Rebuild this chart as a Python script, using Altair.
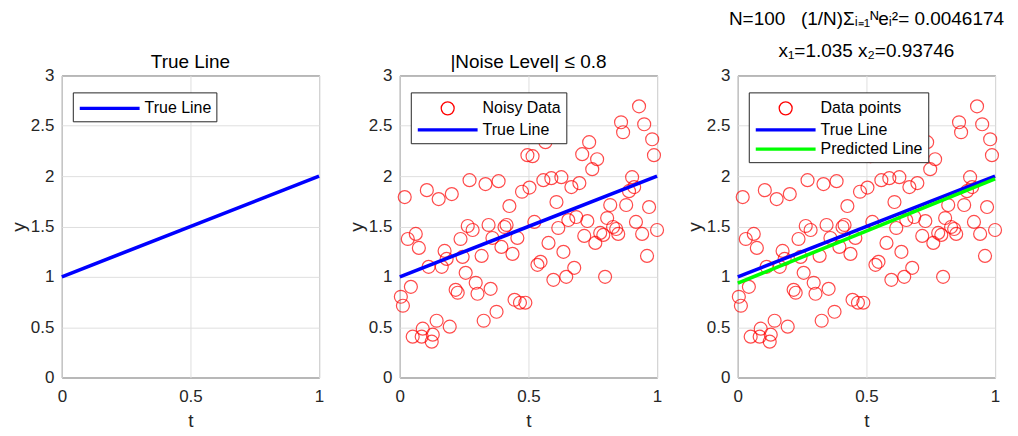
import altair as alt
import pandas as pd

# ---- data ----
T = [0.019, 0.105, 0.151, 0.202, 0.271, 0.333, 0.384, 0.426, 0.475, 0.504,
     0.930, 0.860, 0.868, 0.950, 0.981, 0.988, 0.736, 0.566, 0.496, 0.516,
     0.709, 0.767, 0.748, 0.558, 0.589, 0.628, 0.667, 0.698, 0.903, 0.891,
     0.911, 0.609, 0.818, 0.880, 0.969, 0.655, 0.686, 0.729, 0.806, 0.918,
     0.616, 0.829, 0.841, 1.000, 0.523, 0.779, 0.791, 0.849, 0.760, 0.717,
     0.942, 0.578, 0.636, 0.961, 0.547, 0.535, 0.678, 0.597, 0.647, 0.798,
     0.031, 0.062, 0.074, 0.264, 0.283, 0.345, 0.407, 0.415, 0.360, 0.236,
     0.457, 0.395, 0.438, 0.318, 0.244, 0.174, 0.182, 0.112, 0.163, 0.256,
     0.295, 0.302, 0.353, 0.217, 0.225, 0.043, 0.004, 0.012, 0.446, 0.467,
     0.488, 0.376, 0.326, 0.143, 0.194, 0.089, 0.050, 0.085, 0.128, 0.124]
Y = [1.792, 1.861, 1.772, 1.822, 1.960, 1.921, 1.950, 1.703, 1.845, 1.886,
     2.693, 2.535, 2.436, 2.515, 2.366, 2.208, 2.337, 2.337, 2.208, 2.198,
     2.218, 2.168, 2.069, 1.960, 1.980, 1.990, 1.891, 1.931, 1.990, 1.851,
     1.891, 1.743, 1.713, 1.713, 1.693, 1.564, 1.594, 1.554, 1.584, 1.545,
     1.485, 1.495, 1.475, 1.465, 1.545, 1.436, 1.416, 1.426, 1.337, 1.406,
     1.426, 1.337, 1.248, 1.208, 1.149, 1.119, 1.089, 0.970, 1.000, 1.000,
     1.376, 1.426, 1.287, 1.505, 1.465, 1.515, 1.495, 1.515, 1.386, 1.376,
     1.386, 1.297, 1.228, 1.208, 1.198, 1.257, 1.178, 1.099, 1.099, 1.040,
     0.941, 0.832, 0.881, 0.871, 0.842, 0.901, 0.802, 0.713, 0.772, 0.743,
     0.743, 0.653, 0.564, 0.564, 0.505, 0.485, 0.406, 0.406, 0.426, 0.356]
TRUE_T = [0.0, 1.0]
TRUE_Y = [1.0, 2.0]
PRED_T = [0.0, 1.0]
PRED_Y = [0.93746, 1.97246]

X_TICKS = [0, 0.5, 1]
Y_TICKS = [0, 0.5, 1, 1.5, 2, 2.5, 3]

TITLE1 = "True Line"
TITLE2 = "|Noise Level| \u2264 0.8"
TITLE3 = ["N=100\u00a0\u00a0\u00a0(1/N)\u03a3\u1d62\u208c\u2081\u1d3ae\u1d62\u00b2= 0.0046174",
          "x\u2081=1.035 x\u2082=0.93746"]

LEG1 = ["True Line"]
LEG2 = ["Noisy Data", "True Line"]
LEG3 = ["Data points", "True Line", "Predicted Line"]

RED, BLUE, GREEN = "#FF0000", "#0000FF", "#00FF00"
CIRCLE = "M-0.65,0A0.65,0.65 0 1,1 0.65,0A0.65,0.65 0 1,1 -0.65,0Z"
LINE = "M-3,-0.1H3M-3,0H3M-3,0.1H3"

FONT = "Liberation Sans"
W, H = 258, 303

pts = pd.DataFrame({"t": T, "y": Y})
true_df = pd.DataFrame({"t": TRUE_T, "y": TRUE_Y})
pred_df = pd.DataFrame({"t": PRED_T, "y": PRED_Y})

x_enc = alt.X("t:Q", scale=alt.Scale(domain=[0, 1], nice=False),
              axis=alt.Axis(values=X_TICKS, format="~g", title="t", labelFlush=False,
                            labelPadding=11, titlePadding=7))
y_enc = alt.Y("y:Q", scale=alt.Scale(domain=[0, 3], nice=False),
              axis=alt.Axis(values=Y_TICKS, format="~g", title="y", labelFlush=False,
                            labelPadding=8, titlePadding=2))


def points_layer():
    return alt.Chart(pts).mark_point(shape="circle", filled=False, size=169,
                                     strokeWidth=1.2, color=RED).encode(x=x_enc, y=y_enc)


def line_layer(df, color):
    return alt.Chart(df).mark_line(strokeWidth=3.6, color=color).encode(x=x_enc, y=y_enc)


def legend_layer(names, colors, shapes):
    leg = alt.Legend(title=None, orient="none", legendX=11, legendY=17,
                     direction="vertical", strokeColor="#262626", fillColor="white",
                     padding=5, cornerRadius=0, labelFont=FONT, labelFontSize=16,
                     labelColor="black", symbolSize=400, symbolStrokeWidth=1.3,
                     symbolOffset=21, labelOffset=24, symbolOpacity=1, rowPadding=0.5)
    df = pd.DataFrame({"series": names})
    return alt.Chart(df).mark_point(opacity=0, filled=False, strokeWidth=1.3).encode(
        x=alt.value(0), y=alt.value(0),
        color=alt.Color("series:N", scale=alt.Scale(domain=names, range=colors), legend=leg),
        shape=alt.Shape("series:N", scale=alt.Scale(domain=names, range=shapes), legend=leg),
    )


p1 = alt.layer(
    line_layer(true_df, BLUE),
    legend_layer(LEG1, [BLUE], [LINE]),
).properties(width=W, height=H, title=alt.TitleParams(TITLE1, offset=-6))

p2 = alt.layer(
    points_layer(),
    line_layer(true_df, BLUE),
    legend_layer(LEG2, [RED, BLUE], [CIRCLE, LINE]),
).properties(width=W, height=H, title=alt.TitleParams(TITLE2, offset=-6))

p3 = alt.layer(
    points_layer(),
    line_layer(true_df, BLUE),
    line_layer(pred_df, GREEN),
    legend_layer(LEG3, [RED, BLUE, GREEN], [CIRCLE, LINE, LINE]),
).properties(width=W, height=H,
             title=alt.TitleParams(TITLE3, offset=5, lineHeight=33))

chart = alt.hconcat(p1, p2, p3, spacing=81, bounds="flush").resolve_scale(
    color="independent", shape="independent"
).properties(padding={"left": 0, "top": 0, "right": 5, "bottom": 0}).configure_view(
    stroke="#262626", strokeWidth=1
).configure_axis(
    labelFont=FONT, labelFontSize=17, labelColor="#262626",
    titleFont=FONT, titleFontSize=19, titleFontWeight="normal", titleColor="#262626",
    grid=True, gridColor="#dfdfdf", ticks=False, domain=False,
).configure_title(
    font=FONT, fontSize=19, fontWeight="normal", color="black"
)

chart.save("out.html", embed_options={"renderer": "svg", "actions": False})
